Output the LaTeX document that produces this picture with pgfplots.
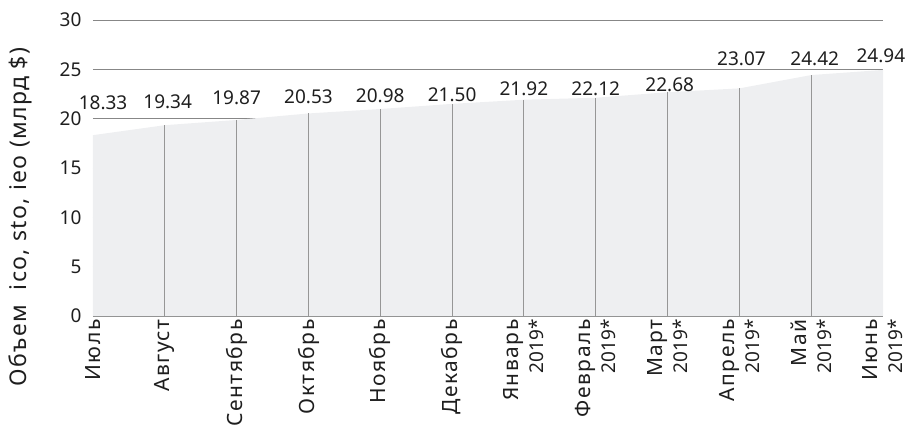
\documentclass[border=0pt]{standalone}
\usepackage{pgfplots}
\pgfplotsset{compat=1.18}
\usepackage{pgfplotstable}
\usepackage{fontspec}
\setmainfont{Noto Sans}
\newfontfamily\wideff[LetterSpace=7]{Noto Sans}
\newcommand\wide{\wideff\fontsize{21bp}{22bp}\selectfont}
\newfontfamily\ylab[LetterSpace=6]{Noto Sans}
\definecolor{areagray}{RGB}{238,239,241}
\definecolor{gridgray}{RGB}{135,135,135}
\definecolor{dropgray}{RGB}{150,150,150}
\definecolor{txt}{RGB}{30,30,30}

\pgfplotstableread{
x y lx ly lbl
0 18.33 0.14 21.6 18.33
1 19.34 1.04 21.7 19.34
2 19.87 2.00 22.1 19.87
3 20.53 3.00 22.2 20.53
4 20.98 4.00 22.3 20.98
5 21.50 5.00 22.4 21.50
6 21.92 6.00 23.0 21.92
7 22.12 7.00 23.0 22.12
8 22.68 8.03 23.4 22.68
9 23.07 9.03 26.1 23.07
10 24.42 10.05 26.1 24.42
11 24.94 10.97 26.4 24.94
}\data

\begin{document}
\begin{tikzpicture}
\useasboundingbox (-93bp,-109bp) rectangle (819bp,316bp);
\begin{pgfinterruptboundingbox}
\clip (-93bp,-109bp) rectangle (819bp,316bp);
\begin{axis}[
  scale only axis, width=790bp, height=296bp,
  xmin=0, xmax=11, ymin=0, ymax=30,
  axis line style={draw=none},
  tick style={draw=none},
  /pgf/number format/assume math mode=true,
  ytick={0,5,...,30},
  ymajorgrids, grid style={gridgray, line width=0.8bp},
  xtick={0,...,11},
  xticklabels={{\wide Июль}, {\wide Август}, {\wide Сентябрь}, {\wide Октябрь}, {\wide Ноябрь}, {\wide Декабрь}, {{\wide Январь}\\[3bp]2019*}, {{\wide Февраль}\\[3bp]2019*}, {{\wide Март}\\[3bp]2019*}, {{\wide Апрель}\\[3bp]2019*}, {{\wide Май}\\[3bp]2019*}, {{\wide Июнь}\\[3bp]2019*}},
  xticklabel style={rotate=90, anchor=east, align=right, font=\fontsize{19bp}{22bp}\selectfont, text=txt},
  yticklabel style={font=\fontsize{19bp}{23bp}\selectfont, text=txt, xshift=-8bp},
  ylabel={Объем\ \ ico, sto, ieo (млрд \$)},
  ylabel style={font=\ylab\fontsize{23bp}{27bp}\selectfont, text=txt, at={(axis description cs:-0.0924,0.3345)}, anchor=center},
  clip=false,
  axis on top=false,
]
\addplot[fill=areagray, draw=none] table[x=x, y=y] {\data} \closedcycle;
\addplot[ycomb, dropgray, line width=1.1bp, mark=none, skip coords between index={0}{1}, skip coords between index={11}{12}] table[x=x, y=y] {\data};
\addplot[only marks, mark=none, nodes near coords, point meta=explicit symbolic,
  nodes near coords align={center},
  every node near coord/.append style={font=\fontsize{19bp}{23bp}\selectfont, text=txt}]
  table[x=lx, y=ly, meta=lbl] {\data};
\end{axis}
\end{pgfinterruptboundingbox}
\end{tikzpicture}
\end{document}
